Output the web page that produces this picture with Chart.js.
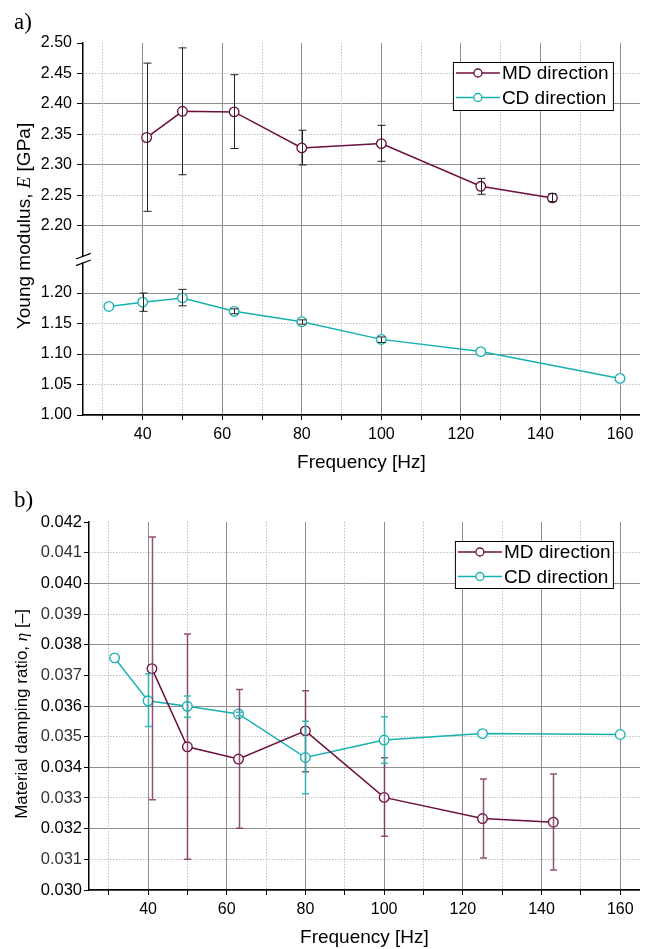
<!DOCTYPE html>
<html>
<head>
<meta charset="utf-8">
<script src="https://cdn.jsdelivr.net/npm/chart.js@4.4.0/dist/chart.umd.min.js"></script>
<style>
  html, body { margin: 0; padding: 0; background: #fff; }
  body { width: 646px; height: 949px; position: relative; overflow: hidden; font-family: "Liberation Sans", Arial, sans-serif; color: #000; }
  .panel { position: absolute; left: 0; width: 646px; }
  .tag { position: absolute; font-family: "Liberation Serif", serif; font-size: 23px; }
  .ytitle { position: absolute; white-space: nowrap; transform: translate(-50%, -50%) rotate(-90deg); }
  .ytitle i { font-family: "Liberation Serif", serif; }
</style>
</head>
<body>
<div class="panel" style="top:0;height:475px"><canvas id="chartA" width="646" height="475"></canvas></div>
<div class="panel" style="top:475px;height:474px"><canvas id="chartB" width="646" height="474"></canvas></div>
<div class="tag" style="left:14px;top:9px">a)</div>
<div class="tag" style="left:14px;top:487px">b)</div>
<div class="ytitle" style="left:24px;top:226px;font-size:19px">Young modulus, <i>E</i> [GPa]</div>
<div class="ytitle" style="left:22px;top:714px;font-size:17px">Material damping ratio, <i>η</i> [–]</div>
<script>
// frequencies [Hz]
const mdFreq = [41, 50, 63, 80, 100, 125, 143];
const cdFreq = [31.5, 40, 50, 63, 80, 100, 125, 160];

// a) Young modulus [GPa]
const mdModulus = [2.345, 2.388, 2.387, 2.328, 2.335, 2.265, 2.246];
const mdModulusLo = [2.224, 2.284, 2.327, 2.300, 2.306, 2.252, 2.240];
const mdModulusHi = [2.467, 2.492, 2.448, 2.357, 2.365, 2.278, 2.253];
const cdModulus = [1.178, 1.185, 1.192, 1.170, 1.153, 1.124, 1.104, 1.060];
const cdModulusLo = [null, 1.170, 1.179, 1.166, 1.149, 1.119, null, null];
const cdModulusHi = [null, 1.200, 1.206, 1.174, 1.156, 1.128, null, null];

// b) damping ratio [-]
const mdDamping = [0.03722, 0.03467, 0.03427, 0.03519, 0.03302, 0.03233, 0.03221];
const mdDampingLo = [0.03294, 0.03100, 0.03201, 0.03386, 0.03175, 0.03104, 0.03065];
const mdDampingHi = [0.04151, 0.03835, 0.03654, 0.03650, 0.03431, 0.03362, 0.03378];
const cdDamping = [0.03757, 0.03617, 0.03599, 0.03574, 0.03432, 0.03489, 0.03510, 0.03507];
const cdDampingLo = [null, 0.03533, 0.03563, 0.03568, 0.03314, 0.03413, null, null];
const cdDampingHi = [null, 0.03705, 0.03633, 0.03580, 0.03550, 0.03565, null, null];

// tick labels
const freqTicks = [30, 40, 50, 60, 70, 80, 90, 100, 110, 120, 130, 140, 150, 160];
const modulusTicks = [1.00, 1.05, 1.10, 1.15, 1.20, 2.20, 2.25, 2.30, 2.35, 2.40, 2.45, 2.50];
const dampingTicks = [0.030, 0.031, 0.032, 0.033, 0.034, 0.035, 0.036, 0.037, 0.038, 0.039, 0.040, 0.041, 0.042];

const MD_COLOR = '#6b0f3d';
const CD_COLOR = '#17b0b0';
const MAJOR_GRID = '#8e8e8e';
const MINOR_GRID = '#c0c0c0';
const DOTS = [1.5, 1.5];
const tickFont = { family: 'Liberation Sans', size: 16 };
const titleFont = { family: 'Liberation Sans', size: 19 };

// broken y axis in a): upper block 2.20..2.50 is shifted down to sit above 1.20
const LOW_TOP = 1.20, HIGH_BOTTOM = 2.20, GAP = 0.11;
const toAxis = v => v == null ? null : (v >= 2 ? v - HIGH_BOTTOM + LOW_TOP + GAP : v);
const fromAxis = v => v > LOW_TOP + GAP / 2 ? v + HIGH_BOTTOM - LOW_TOP - GAP : v;

const errorBars = {
  id: 'errorBars',
  afterDatasetsDraw(chart) {
    const ctx = chart.ctx;
    const yScale = chart.scales.y;
    chart.data.datasets.forEach((ds, i) => {
      if (!ds.errLo) return;
      const meta = chart.getDatasetMeta(i);
      ctx.save();
      ctx.strokeStyle = ds.errColor;
      ctx.lineWidth = ds.errWidth;
      meta.data.forEach((pt, j) => {
        if (ds.errLo[j] == null) return;
        const x = Math.round(pt.x) + 0.5;
        const y1 = yScale.getPixelForValue(ds.errLo[j]);
        const y2 = yScale.getPixelForValue(ds.errHi[j]);
        const c = ds.capHalf;
        ctx.beginPath();
        ctx.moveTo(x, y1); ctx.lineTo(x, y2);
        ctx.moveTo(x - c, y1); ctx.lineTo(x + c, y1);
        ctx.moveTo(x - c, y2); ctx.lineTo(x + c, y2);
        ctx.stroke();
      });
      ctx.restore();
    });
  }
};

const boxLegend = (fromRight, fromTop, w, h) => ({
  id: 'boxLegend',
  afterDraw(chart) {
    const ctx = chart.ctx;
    const area = chart.chartArea;
    const bx = area.right - fromRight, by = area.top + fromTop;
    ctx.save();
    ctx.fillStyle = '#fff';
    ctx.fillRect(bx, by, w, h);
    ctx.strokeStyle = '#000';
    ctx.lineWidth = 1;
    ctx.strokeRect(bx + 0.5, by + 0.5, w, h);
    chart.data.datasets.forEach((ds, i) => {
      const y = by + 11 + i * 24.5;
      ctx.strokeStyle = ds.borderColor;
      ctx.lineWidth = 1.5;
      ctx.beginPath();
      ctx.moveTo(bx + 3, y); ctx.lineTo(bx + 47, y);
      ctx.stroke();
      ctx.beginPath();
      ctx.arc(bx + 25, y, 4, 0, Math.PI * 2);
      ctx.fillStyle = '#fff';
      ctx.fill();
      ctx.lineWidth = 1.3;
      ctx.stroke();
      ctx.fillStyle = '#000';
      ctx.font = '19px "Liberation Sans"';
      ctx.textBaseline = 'middle';
      ctx.fillText(ds.label, bx + 49, y + 1);
    });
    ctx.restore();
  }
});

const axisBreak = {
  id: 'axisBreak',
  afterDraw(chart) {
    const ctx = chart.ctx;
    const x = chart.chartArea.left;
    const yb = chart.scales.y.getPixelForValue(LOW_TOP + GAP / 2);
    ctx.save();
    ctx.fillStyle = '#fff';
    ctx.fillRect(x - 2, yb - 3, 4, 6);
    ctx.strokeStyle = '#000';
    ctx.lineWidth = 1.3;
    ctx.beginPath();
    ctx.moveTo(x - 7, yb + 6.2); ctx.lineTo(x + 7.7, yb + 0.5);
    ctx.moveTo(x - 7, yb - 0.5); ctx.lineTo(x + 7.7, yb - 6.2);
    ctx.stroke();
    ctx.restore();
  }
};

const freqAxes = (height, titlePad) => ({
  x: {
    type: 'linear', min: 25, max: 165, weight: 0,
    afterBuildTicks: s => { s.ticks = freqTicks.map(v => ({ value: v })); },
    afterFit: s => { s.height = height; },
    ticks: { callback: v => (v % 20 === 0 ? v : ''), font: tickFont, color: '#000', padding: 5, maxRotation: 0, autoSkip: false },
    grid: { color: c => (c.tick && c.tick.value % 20 === 0 ? MAJOR_GRID : 'transparent'), tickColor: '#000', tickLength: 5, tickWidth: 1 },
    border: { color: '#000', width: 1.5 },
    title: { display: true, text: 'Frequency [Hz]', font: titleFont, color: '#000', padding: { top: 0, bottom: titlePad } }
  },
  xMinor: {
    type: 'linear', min: 25, max: 165, weight: 1, position: 'bottom',
    afterBuildTicks: s => { s.ticks = freqTicks.filter(v => v % 20 !== 0).map(v => ({ value: v })); },
    afterFit: s => { s.height = 0; },
    ticks: { display: false },
    grid: { color: MINOR_GRID, drawTicks: false, borderDash: DOTS },
    border: { display: false, dash: DOTS }
  }
});

const baseOptions = (padTop, scales) => ({
  responsive: false,
  animation: false,
  layout: { padding: { top: padTop, right: 4, left: 0, bottom: 0 } },
  plugins: { legend: { display: false }, tooltip: { enabled: false } },
  scales
});

const lineSet = (label, color, xs, ys) => ({
  label,
  data: xs.map((f, i) => ({ x: f, y: ys[i] })),
  borderColor: color,
  borderWidth: 1.5,
  pointRadius: 4.8,
  pointBorderWidth: 1.3,
  pointBorderColor: color,
  pointBackgroundColor: '#fff',
  tension: 0,
  fill: false
});

// a) Young modulus
const mdSetA = Object.assign(lineSet('MD direction', MD_COLOR, mdFreq, mdModulus.map(toAxis)), {
  errLo: mdModulusLo.map(toAxis), errHi: mdModulusHi.map(toAxis), errColor: '#222', errWidth: 1, capHalf: 4
});
const cdSetA = Object.assign(lineSet('CD direction', CD_COLOR, cdFreq, cdModulus.map(toAxis)), {
  errLo: cdModulusLo.map(toAxis), errHi: cdModulusHi.map(toAxis), errColor: '#222', errWidth: 1, capHalf: 4
});

const modTickVals = modulusTicks.map(toAxis);
const isMajorMod = v => Math.round(fromAxis(v) * 100) % 10 === 0;

new Chart(document.getElementById('chartA'), {
  type: 'line',
  data: { datasets: [mdSetA, cdSetA] },
  options: baseOptions(43, Object.assign({
    y: {
      type: 'linear', min: toAxis(1.00), max: toAxis(2.50), weight: 1,
      afterBuildTicks: s => { s.ticks = modTickVals.map(v => ({ value: v })); },
      afterFit: s => { s.width = 83; },
      ticks: { callback: v => fromAxis(v).toFixed(2), font: tickFont, color: '#000', padding: 5 },
      grid: {
        color: c => (c.tick && isMajorMod(c.tick.value) && Math.abs(fromAxis(c.tick.value) - 2.5) > 0.001 ? MAJOR_GRID : 'transparent'),
        tickColor: '#000', tickLength: 6
      },
      border: { color: '#000', width: 1.5 }
    },
    yMinor: {
      type: 'linear', min: toAxis(1.00), max: toAxis(2.50), weight: 0, position: 'left',
      afterBuildTicks: s => { s.ticks = modTickVals.filter(v => !isMajorMod(v)).map(v => ({ value: v })); },
      afterFit: s => { s.width = 0; },
      ticks: { display: false },
      grid: { color: MINOR_GRID, drawTicks: false, borderDash: DOTS },
      border: { display: false, dash: DOTS }
    }
  }, freqAxes(60, 1))),
  plugins: [errorBars, axisBreak, boxLegend(187, 19, 160, 48)]
});

// b) damping ratio
const mdSetB = Object.assign(lineSet('MD direction', MD_COLOR, mdFreq, mdDamping), {
  errLo: mdDampingLo, errHi: mdDampingHi, errColor: 'rgba(128, 50, 95, 0.85)', errWidth: 1.5, capHalf: 3.5
});
const cdSetB = Object.assign(lineSet('CD direction', CD_COLOR, cdFreq, cdDamping), {
  errLo: cdDampingLo, errHi: cdDampingHi, errColor: 'rgba(40, 180, 180, 0.9)', errWidth: 1.5, capHalf: 3.5
});

const isMajorDamp = v => Math.round(v * 1000) % 2 === 0;

new Chart(document.getElementById('chartB'), {
  type: 'line',
  data: { datasets: [mdSetB, cdSetB] },
  options: baseOptions(47, Object.assign({
    y: {
      type: 'linear', min: 0.030, max: 0.042, weight: 1,
      afterBuildTicks: s => { s.ticks = dampingTicks.map(v => ({ value: v })); },
      afterFit: s => { s.width = 89; },
      ticks: {
        callback: v => v.toFixed(3), font: { family: 'Liberation Sans', size: 16.5 },
        color: c => (c.tick && isMajorDamp(c.tick.value) ? '#000' : '#333'), padding: 2
      },
      grid: {
        color: c => (c.tick && isMajorDamp(c.tick.value) && c.tick.value < 0.0415 ? MAJOR_GRID : 'transparent'),
        tickColor: '#000', tickLength: 5
      },
      border: { color: '#000', width: 1.5 }
    },
    yMinor: {
      type: 'linear', min: 0.030, max: 0.042, weight: 0, position: 'left',
      afterBuildTicks: s => { s.ticks = dampingTicks.filter(v => !isMajorDamp(v)).map(v => ({ value: v })); },
      afterFit: s => { s.width = 0; },
      ticks: { display: false },
      grid: { color: MINOR_GRID, drawTicks: false, borderDash: DOTS },
      border: { display: false, dash: DOTS }
    }
  }, freqAxes(59, 0))),
  plugins: [errorBars, boxLegend(185, 19, 158, 47)]
});
</script>
</body>
</html>
